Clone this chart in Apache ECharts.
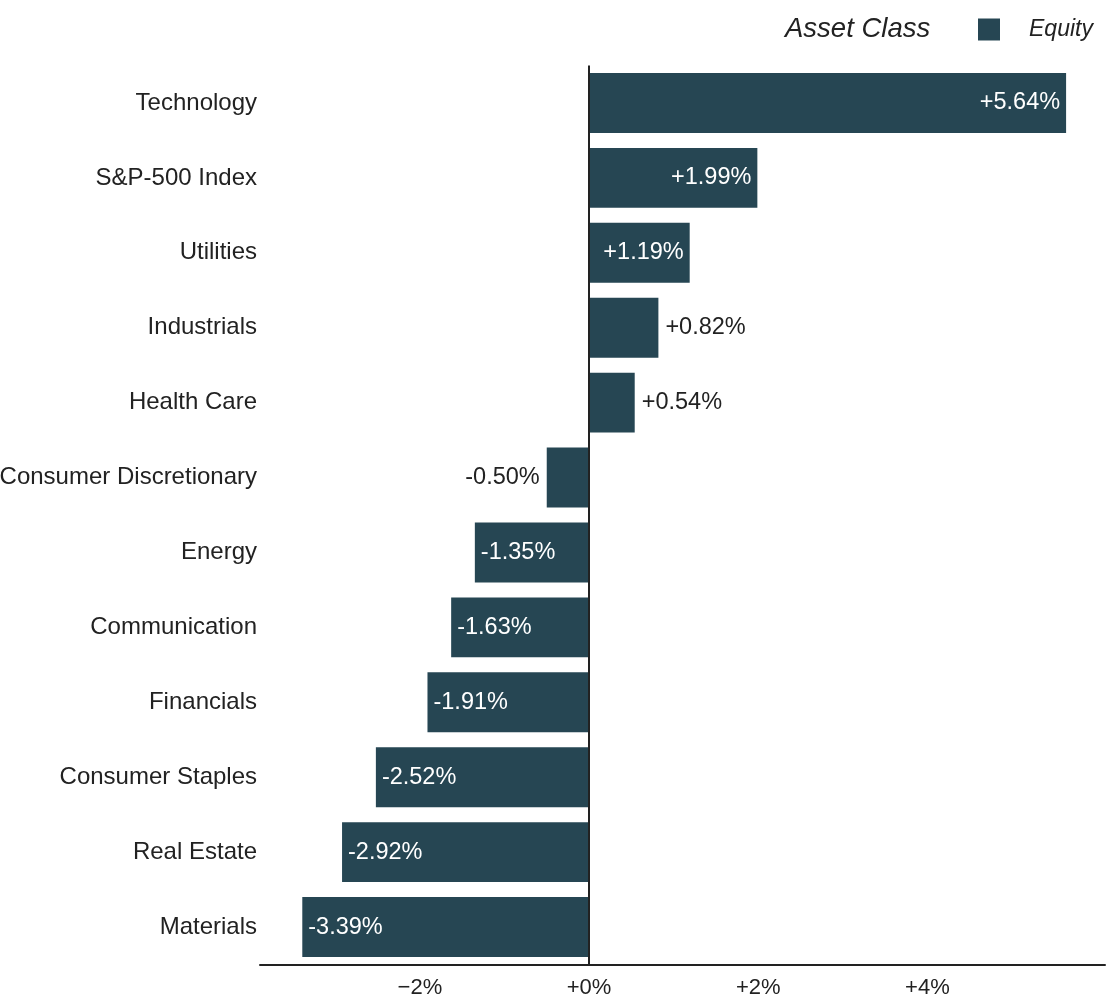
<!DOCTYPE html>
<html>
<head>
<meta charset="utf-8">
<script src="https://cdn.jsdelivr.net/npm/echarts@6/dist/echarts.min.js"></script>
<style>html,body{margin:0;padding:0;background:#fff}#c{width:1120px;height:1000px}</style>
</head>
<body>
<div id="c"></div>
<script>
const categories = ['Technology','S&P-500 Index','Utilities','Industrials','Health Care','Consumer Discretionary','Energy','Communication','Financials','Consumer Staples','Real Estate','Materials'];
const values = [5.64, 1.99, 1.19, 0.82, 0.54, -0.50, -1.35, -1.63, -1.91, -2.52, -2.92, -3.39];
const tickValues = [-2, 0, 2, 4];
const tickLabels = ['\u22122%', '+0%', '+2%', '+4%'];
const seriesName = 'Equity';
const legendTitle = 'Asset Class';

const barColor = '#264653';
const textColor = '#222';
const font = 'Liberation Sans';

const data = values.map(v => {
  const inside = Math.abs(v) >= 1;
  let position;
  if (v >= 0) position = inside ? 'insideRight' : 'right';
  else position = inside ? 'insideLeft' : 'left';
  return {
    value: v,
    label: {
      position: position,
      color: inside ? '#fff' : textColor,
      distance: inside ? 6 : 7
    }
  };
});

const chart = echarts.init(document.getElementById('c'));
chart.setOption({
  animation: false,
  textStyle: { fontFamily: font },
  title: {
    text: legendTitle,
    left: 780, top: 11,
    textStyle: { fontFamily: font, fontSize: 27.5, fontStyle: 'italic', fontWeight: 'normal', color: textColor }
  },
  legend: {
    data: [seriesName],
    left: 973, top: 13,
    icon: 'rect', itemWidth: 22, itemHeight: 22,
    textStyle: { fontFamily: font, fontSize: 23, fontStyle: 'italic', color: textColor, padding: [4, 0, 0, 24] }
  },
  grid: { left: 260, right: 15, top: 65.5, bottom: 35.5, containLabel: false, outerBoundsMode: 'none' },
  xAxis: {
    type: 'value',
    min: -3.89, max: 6.1,
    axisLine: { show: true, onZero: false, lineStyle: { color: textColor, width: 2 } },
    axisTick: { show: false },
    splitLine: { show: false },
    axisLabel: {
      customValues: tickValues,
      margin: 12,
      fontSize: 22, color: textColor, fontFamily: font,
      formatter: v => tickLabels[tickValues.indexOf(v)] ?? ''
    }
  },
  yAxis: {
    type: 'category',
    data: categories,
    inverse: true,
    axisLine: { show: false },
    axisTick: { show: false },
    axisLabel: { fontSize: 24, color: textColor, fontFamily: font, margin: 3, padding: [3, 0, 0, 0] }
  },
  series: [{
    name: seriesName,
    type: 'bar',
    data: data,
    barCategoryGap: '20%',
    itemStyle: { color: barColor },
    label: {
      show: true,
      fontSize: 23.5, fontFamily: font,
      padding: [3, 0, 0, 0],
      formatter: p => (p.value >= 0 ? '+' : '-') + Math.abs(p.value).toFixed(2) + '%'
    },
    markLine: {
      silent: true,
      symbol: 'none',
      label: { show: false },
      lineStyle: { color: textColor, width: 2, type: 'solid' },
      data: [{ xAxis: 0 }]
    }
  }]
});
</script>
</body>
</html>
